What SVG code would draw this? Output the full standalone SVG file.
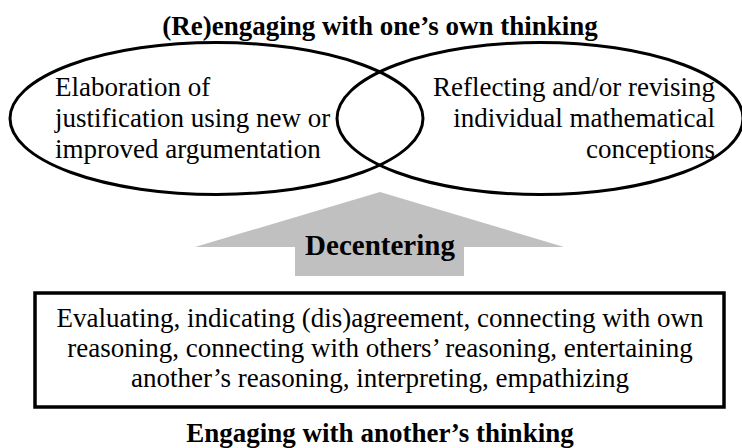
<svg xmlns="http://www.w3.org/2000/svg" width="742" height="448" viewBox="0 0 742 448">
<style>
text{font-family:'Liberation Serif','Times New Roman',Times,'DejaVu Serif',serif;font-size:27px;fill:#000}
.b{font-weight:bold}
.ell{fill:none;stroke:#000;stroke-width:3}
</style>
<rect width="742" height="448" fill="#fff"/>
<text class="b" x="380" y="35" text-anchor="middle" font-family="Liberation Serif, serif">(Re)engaging with one’s own thinking</text>
<g id="left-ellipse">
<ellipse class="ell" cx="216.5" cy="118.5" rx="206.5" ry="76"/>
<text x="55" y="96" font-family="Liberation Serif, serif">Elaboration of</text>
<text x="55" y="127" font-family="Liberation Serif, serif">justification using new or</text>
<text x="55" y="158" font-family="Liberation Serif, serif">improved argumentation</text>
</g>
<g id="right-ellipse">
<ellipse class="ell" cx="540" cy="118.5" rx="203" ry="76"/>
<text x="715" y="96" text-anchor="end" font-family="Liberation Serif, serif">Reflecting and/or revising</text>
<text x="715" y="127" text-anchor="end" font-family="Liberation Serif, serif">individual mathematical</text>
<text x="715" y="158" text-anchor="end" font-family="Liberation Serif, serif">conceptions</text>
</g>
<g id="connectors">
<g id="decentering-arrow">
<polygon points="380,192 564,247 464,247 464,276 295,276 295,247 195,247" fill="#c0c0c0"/>
<text class="b" x="380" y="255" text-anchor="middle" font-family="Liberation Serif, serif" style="font-size:29px">Decentering</text>
</g>
</g>
<g id="box">
<rect x="35" y="293" width="689" height="114" fill="none" stroke="#000" stroke-width="3.5"/>
<text x="380" y="327" text-anchor="middle" font-family="Liberation Serif, serif">Evaluating, indicating (dis)agreement, connecting with own</text>
<text x="380" y="357" text-anchor="middle" font-family="Liberation Serif, serif">reasoning, connecting with others’ reasoning, entertaining</text>
<text x="380" y="387" text-anchor="middle" font-family="Liberation Serif, serif">another’s reasoning, interpreting, empathizing</text>
</g>
<text class="b" x="380" y="442" text-anchor="middle" font-family="Liberation Serif, serif">Engaging with another’s thinking</text>
</svg>
